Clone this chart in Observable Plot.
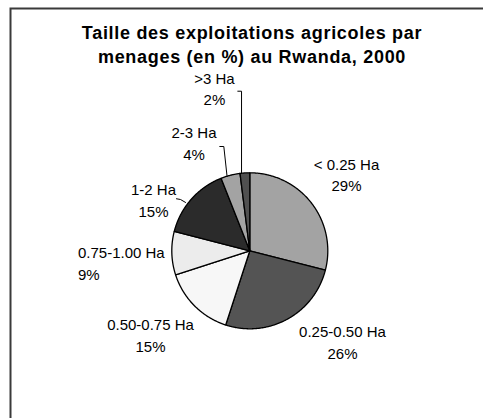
<!DOCTYPE html>
<html>
<head>
<meta charset="utf-8">
<script src="https://cdn.jsdelivr.net/npm/d3@7"></script>
<script src="https://cdn.jsdelivr.net/npm/@observablehq/plot@0.6"></script>
<style>
  html, body { margin: 0; padding: 0; background: #fff; }
  svg { display: block; }
</style>
</head>
<body>
<div id="chart"></div>
<script>
// ---- data ----
const categories = ["< 0.25 Ha", "0.25-0.50 Ha", "0.50-0.75 Ha", "0.75-1.00 Ha", "1-2 Ha", "2-3 Ha", ">3 Ha"];
const shares = [29, 26, 15, 9, 15, 4, 2];
const titleLines = ["Taille des exploitations agricoles par", "menages (en %) au Rwanda, 2000"];

// ---- style ----
const sliceColors = ["#a3a3a3", "#545454", "#f7f7f7", "#ececec", "#2b2b2b", "#a3a3a3", "#505050"];

// ---- layout (label anchors in pie-radius units, relative to the pie centre) ----
const labelLayout = [
  {x: 1.240, y: 0.991, anchor: "middle"},
  {x: 1.188, y: -1.161, anchor: "middle"},
  {x: -1.273, y: -1.071, anchor: "middle"},
  {x: -2.203, y: -0.148, anchor: "start"},
  {x: -1.235, y: 0.664, anchor: "middle"},
  {x: -0.715, y: 1.396, anchor: "middle"},
  {x: -0.453, y: 2.091, anchor: "middle"}
];
const leaderLayout = {
  "1-2 Ha": [[-0.94, 0.667], [-0.889, 0.658], [-0.824, 0.62]],
  "2-3 Ha": [[-0.385, 1.337], [-0.333, 1.337], [-0.292, 0.958]],
  ">3 Ha": [[-0.154, 2.046], [-0.106, 2.046], [-0.106, 0.994]]
};

const W = 483, H = 418;
const table = categories.map((c, i) => ({cat: c, value: shares[i]}));
const arcs = d3.pie().sort(null).value(d => d.value).startAngle(0).endAngle(2 * Math.PI)(table);

const slicePts = [];
for (const a of arcs) {
  const cat = a.data.cat;
  slicePts.push({cat, x: 0, y: 0});
  const n = Math.max(2, Math.ceil((a.endAngle - a.startAngle) / (Math.PI / 360)));
  for (let k = 0; k <= n; k++) {
    const t = a.startAngle + (a.endAngle - a.startAngle) * k / n;
    slicePts.push({cat, x: Math.sin(t), y: Math.cos(t)});
  }
  slicePts.push({cat, x: 0, y: 0});
}

const labels = table.map((d, i) => ({
  ...d, ...labelLayout[i],
  text: d.cat + "\n" + d.value + "%"
}));

const leaderPts = [];
for (const [cat, pts] of Object.entries(leaderLayout)) {
  for (const [x, y] of pts) leaderPts.push({cat, x, y});
}

const cx = 249.3, cy = 250.3, R = 78;

const chart = Plot.plot({
  width: W,
  height: H,
  margin: 0,
  style: {fontFamily: "'Liberation Sans', Arial, sans-serif", background: "#fff"},
  x: {domain: [-cx / R, (W - cx) / R], axis: null},
  y: {domain: [(cy - H) / R, cy / R], axis: null},
  color: {domain: categories, range: sliceColors},
  marks: [
    Plot.frame({insetLeft: 10, insetTop: 8, insetRight: -30, insetBottom: -30, stroke: "#3a3a3a", strokeWidth: 2}),
    Plot.line(slicePts, {x: "x", y: "y", z: "cat", fill: "cat", stroke: "#000", strokeWidth: 1.3, strokeLinejoin: "round", curve: "linear"}),
    Plot.line(leaderPts, {x: "x", y: "y", z: "cat", stroke: "#000", strokeWidth: 1}),
    Plot.text(labels.filter(d => d.anchor === "middle"), {x: "x", y: "y", text: "text", textAnchor: "middle", fontSize: 15, lineHeight: 1.447, fill: "#000"}),
    Plot.text(labels.filter(d => d.anchor === "start"), {x: "x", y: "y", text: "text", textAnchor: "start", fontSize: 15, lineHeight: 1.447, fill: "#000"}),
    Plot.text([titleLines.join("\n")], {frameAnchor: "top", dx: 10, dy: 21, lineAnchor: "top", fontSize: 18, fontWeight: "bold", lineHeight: 24 / 18, fill: "#000"})
  ]
});

document.getElementById("chart").appendChild(chart);
d3.select(chart).selectAll("g[font-weight=bold]").style("letter-spacing", "0.7px");
</script>
</body>
</html>
